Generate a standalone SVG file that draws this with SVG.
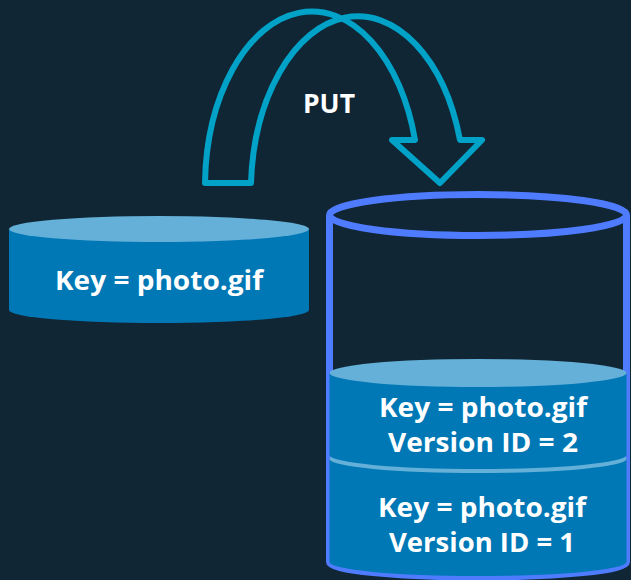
<svg xmlns="http://www.w3.org/2000/svg" width="631" height="580" viewBox="0 0 631 580">
<style>
.bg{fill:#102634}
.body{fill:#0078b6}
.top{fill:#64b0d8}
.lbl{font-family:"Open Sans","Liberation Sans",sans-serif;font-weight:bold;font-size:26.5px;fill:#ffffff;text-anchor:middle}
.arrow{fill:none;stroke:#00a2c8;stroke-width:6;stroke-linejoin:round}
.bucket{fill:none;stroke:#4f7cff;stroke-width:7}
</style>
<rect class="bg" x="0" y="0" width="631" height="580"/>
<g id="connectors">
<path id="put-arrow" class="arrow" d="M205,183 A107,176 0 0 1 415,140 L392,140 L440,183 L482,140 L460,140 A107,176 0 0 0 251,183 Z"/>
<text class="lbl" x="329" y="113" font-size="27">PUT</text>
</g>
<g id="object">
<path class="body" d="M9,229 L309,229 L309,310 A150,13 0 0 1 9,310 Z"/>
<ellipse class="top" cx="159" cy="229" rx="150" ry="13"/>
<text class="lbl" x="159" y="290" textLength="208" lengthAdjust="spacingAndGlyphs">Key = photo.gif</text>
</g>
<g id="bucket">
<path class="bucket" d="M329.5,215 L329.5,562 A148.5,15 0 0 0 626.5,562 L626.5,215"/>
<ellipse class="bucket" cx="478" cy="215" rx="148.5" ry="20.5"/>
</g>
<g id="version1">
<path class="body" d="M329.5,459 L626.5,459 L626.5,562 A148.5,14 0 0 1 329.5,562 Z"/>
<ellipse class="top" cx="478" cy="459" rx="148.5" ry="14"/>
<text class="lbl" x="482" y="517" textLength="208" lengthAdjust="spacingAndGlyphs">Key = photo.gif</text>
<text class="lbl" x="482" y="552" textLength="186" lengthAdjust="spacingAndGlyphs">Version ID = 1</text>
</g>
<g id="version2">
<path class="body" d="M329.5,373 L626.5,373 L626.5,455 A148.5,14 0 0 1 329.5,455 Z"/>
<ellipse class="top" cx="478" cy="373" rx="148.5" ry="14"/>
<text class="lbl" x="483" y="417" textLength="208" lengthAdjust="spacingAndGlyphs">Key = photo.gif</text>
<text class="lbl" x="483" y="452" textLength="190" lengthAdjust="spacingAndGlyphs">Version ID = 2</text>
</g>
</svg>
